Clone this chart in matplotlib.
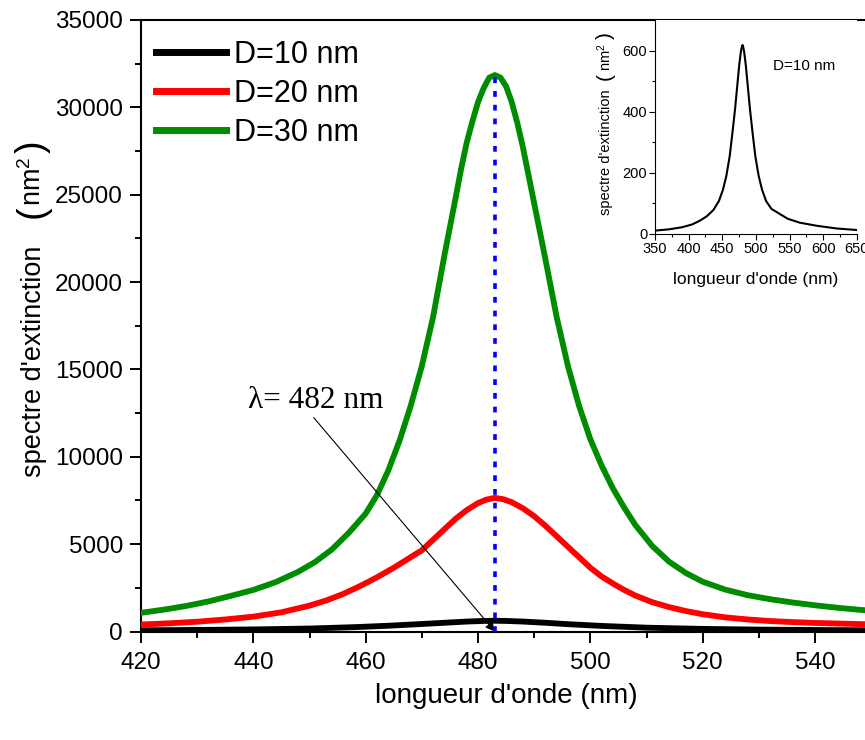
import numpy as np
import matplotlib
matplotlib.use("Agg")
import matplotlib.pyplot as plt
from matplotlib.ticker import MultipleLocator

plt.rcParams['font.family'] = ['Liberation Sans', 'DejaVu Sans']
plt.rcParams['mathtext.fontset'] = 'custom'
plt.rcParams['mathtext.rm'] = 'Liberation Sans'
plt.rcParams['mathtext.it'] = 'Liberation Sans:italic'

# --- values ---
lam_g = [420, 424, 428, 432, 436, 440, 444, 448, 451, 454, 457, 460, 462, 464, 466, 468,
         470, 472, 474, 476, 477, 478, 479, 480, 481, 482, 483, 484, 485, 486, 487, 488,
         490, 492, 494, 496, 498, 500, 502, 504, 506, 508, 511, 514, 517, 520, 524, 528,
         532, 536, 540, 544, 548, 550]
d30 = [1070, 1250, 1460, 1720, 2040, 2380, 2830, 3420, 3980, 4700, 5650, 6750, 7800, 9200,
       10900, 12900, 15200, 18000, 21500, 24800, 26500, 28000, 29200, 30300, 31100, 31700,
       31850, 31700, 31200, 30300, 29100, 27700, 24500, 21300, 18000, 15200, 12900, 11000,
       9500, 8200, 7100, 6100, 4900, 4000, 3350, 2850, 2400, 2080, 1850, 1660, 1500, 1360,
       1240, 1190]

lam_r = [420, 425, 430, 435, 440, 445, 450, 453, 456, 459, 462, 465, 468, 470, 472, 474,
         476, 478, 480, 481.5, 483, 484.5, 486, 488, 490, 492, 494, 496, 498, 500, 502,
         504, 506, 508, 511, 514, 517, 520, 524, 528, 532, 536, 540, 545, 550]
d20 = [400, 470, 560, 690, 850, 1100, 1480, 1780, 2150, 2600, 3100, 3650, 4250, 4650, 5250,
       5850, 6450, 6950, 7350, 7550, 7650, 7570, 7400, 7050, 6600, 6050, 5450, 4850, 4250,
       3650, 3150, 2750, 2380, 2060, 1680, 1400, 1170, 990, 810, 690, 600, 540, 490, 450, 410]

lam_k = [420, 430, 440, 450, 458, 464, 470, 474, 478, 481, 483, 485, 488, 492, 496, 502,
         510, 520, 530, 540, 550]
d10 = [70, 90, 120, 170, 250, 330, 430, 500, 570, 605, 615, 605, 570, 500, 420, 320,
       220, 150, 110, 85, 70]

# inset (D=10 nm, wide range)
lam_in = [350, 370, 390, 405, 417, 427, 437, 445, 451, 456, 461, 465, 469, 472, 475, 477.5,
          479, 480, 481, 482.5, 485, 488, 491, 495, 499, 504, 509, 515, 523, 535, 547, 565,
          590, 620, 650]
d10_in = [11, 15, 22, 31, 44, 58, 79, 108, 145, 190, 255, 330, 410, 480, 550, 595,
          612, 618, 612, 595, 550, 480, 410, 330, 255, 190, 145, 108, 82, 66, 50, 37,
          27, 18, 13]

peak_lam = 483

W, H = 865, 740
fig = plt.figure(figsize=(W / 100, H / 100), dpi=100)
ax = fig.add_axes([0.163, 0.1466, 0.8442, 0.8264])

ax.plot(lam_k, d10, color='black', lw=4.2, label='D=10 nm', zorder=3)
ax.plot(lam_r, d20, color='#ff0000', lw=4.2, label='D=20 nm', zorder=3)
ax.plot(lam_g, d30, color='#008c00', lw=4.2, label='D=30 nm', zorder=3)
ax.plot([peak_lam, peak_lam], [0, max(d30)], color='#0000ff', lw=2.6,
        ls=(0, (1.6, 2.2)), zorder=4)

ax.annotate(u'\u03bb= 482 nm', xy=(peak_lam, 0), xytext=(439, 12800),
            fontsize=22.5, family='Liberation Serif',
            arrowprops=dict(arrowstyle='-|>', color='black', lw=0.8,
                            mutation_scale=14, shrinkA=0, shrinkB=0,
                            relpos=(0.47, 0.0)))

ax.set_xlim(420, 550)
ax.set_ylim(0, 35000)
ax.xaxis.set_major_locator(MultipleLocator(20))
ax.xaxis.set_minor_locator(MultipleLocator(10))
ax.yaxis.set_major_locator(MultipleLocator(5000))
ax.yaxis.set_minor_locator(MultipleLocator(2500))
ax.tick_params(which='major', direction='out', length=8, width=1.4, labelsize=17.5)
ax.tick_params(which='minor', direction='out', length=4.5, width=1.4)
ax.tick_params(axis='x', pad=7)
ax.tick_params(axis='y', pad=5)
for s in ax.spines.values():
    s.set_linewidth(1.5)
ax.spines['right'].set_visible(False)

ax.set_xlabel("longueur d'onde (nm)", fontsize=20, labelpad=6)

# y label built from pieces so the brackets can be larger
def ylab(px, py, s, size):
    fig.text(px / W, 1 - py / H, s, rotation=90, ha='center', va='center', fontsize=size)

ylab(34, 361, "spectre d'extinction", 19.5)
ylab(33, 212, "(", 27)
ylab(33, 181, r"nm$^2$", 19.5)
ylab(33, 147, ")", 27)

leg = ax.legend(loc='upper left', fontsize=22, frameon=False, handlelength=2.3,
                handletextpad=0.26, labelspacing=0.3, borderpad=0.2, borderaxespad=0.0,
                bbox_to_anchor=(0.012, 0.978))
for ln in leg.get_lines():
    ln.set_linewidth(5)

# inset
axi = fig.add_axes([0.7572, 0.6838, 0.2335, 0.2892])
axi.plot(lam_in, d10_in, color='black', lw=1.5)
axi.set_xlim(350, 650)
axi.set_ylim(0, 700)
axi.xaxis.set_major_locator(MultipleLocator(50))
axi.xaxis.set_minor_locator(MultipleLocator(25))
axi.yaxis.set_major_locator(MultipleLocator(200))
axi.yaxis.set_minor_locator(MultipleLocator(100))
axi.tick_params(which='major', direction='out', length=4, width=0.8, labelsize=10.5, pad=1.5)
axi.tick_params(which='minor', direction='out', length=2, width=0.8)
axi.spines['top'].set_visible(False)
axi.spines['right'].set_visible(False)
axi.set_xlabel("longueur d'onde (nm)", fontsize=12.5, labelpad=12)

ylab(606, 152, "spectre d'extinction", 10.5)
ylab(605, 77, "(", 15)
ylab(605, 57, r"nm$^2$", 10.5)
ylab(605, 36, ")", 15)

axi.text(0.584, 0.785, 'D=10 nm', transform=axi.transAxes, fontsize=11, va='center')

fig.savefig('out.png', dpi=100)
